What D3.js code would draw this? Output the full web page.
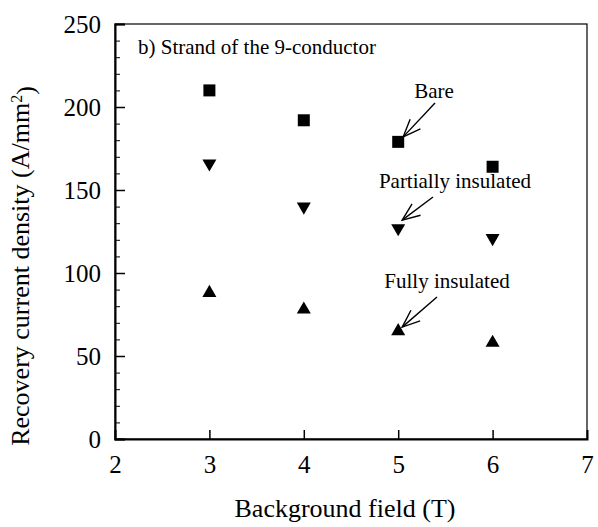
<!DOCTYPE html>
<html>
<head>
<meta charset="utf-8">
<script src="https://cdn.jsdelivr.net/npm/d3@7"></script>
<style>
  body { margin: 0; background: #fff; }
  svg { display: block; }
</style>
</head>
<body>
<div id="zone"></div>
<script>
(function() {
  "use strict";

  // données
  var fields = [3, 4, 5, 6];
  var bare = [210, 192, 179, 164];
  var partial = [166, 140, 127, 121];
  var fully = [88, 78, 65, 58];

  var xTicks = [2, 3, 4, 5, 6, 7];
  var yTicks = [0, 50, 100, 150, 200, 250];

  var police = "Liberation Serif";

  var width = 598, height = 527;
  var margin = {left: 115, top: 24, right: 11, bottom: 88};

  var svg = d3.select("#zone").append("svg")
    .attr("width", width)
    .attr("height", height)
    .attr("font-family", police);

  var x = d3.scaleLinear().domain([2, 7]).range([margin.left, width - margin.right]);
  var y = d3.scaleLinear().domain([0, 250]).range([height - margin.bottom, margin.top]);

  // cadre
  svg.append("rect")
    .attr("x", x(2)).attr("y", y(250))
    .attr("width", x(7) - x(2)).attr("height", y(0) - y(250))
    .attr("fill", "none").attr("stroke", "#000").attr("stroke-width", 1.2);

  // axe y : ticks vers l'intérieur
  var yAxis = svg.append("g")
    .attr("transform", "translate(" + x(2) + ",0)")
    .call(d3.axisLeft(y).tickValues(yTicks).tickFormat(d3.format("d")).tickSize(-10).tickPadding(14));
  yAxis.attr("font-family", police).attr("font-size", 25);
  yAxis.select(".domain").attr("stroke-width", 2);
  yAxis.selectAll(".tick line").attr("stroke-width", 1.5);
  yAxis.selectAll("text").attr("dy", "0.35em");

  // ticks mineurs y
  svg.append("g")
    .attr("transform", "translate(" + x(2) + ",0)")
    .call(d3.axisLeft(y).tickValues(d3.range(0, 251, 10).filter(function(d) { return d % 50 !== 0; }))
      .tickSize(-5).tickFormat(""))
    .select(".domain").remove();

  // axe x
  var xAxis = svg.append("g")
    .attr("transform", "translate(0," + y(0) + ")")
    .call(d3.axisBottom(x).tickValues(xTicks).tickFormat(d3.format("d")).tickSize(-9).tickPadding(16));
  xAxis.attr("font-family", police).attr("font-size", 25);
  xAxis.select(".domain").attr("stroke-width", 2);
  xAxis.selectAll(".tick line").attr("stroke-width", 1.5);
  xAxis.selectAll(".tick line").filter(function(d) { return d === 2 || d === 7; }).remove();

  // titres des axes
  svg.append("text")
    .attr("x", 345).attr("y", 517)
    .attr("text-anchor", "middle")
    .attr("font-size", 26)
    .text("Background field (T)");

  var yTitle = svg.append("text")
    .attr("transform", "translate(29,266) rotate(-90)")
    .attr("text-anchor", "middle")
    .attr("font-size", 26);
  yTitle.append("tspan").text("Recovery current density (A/mm");
  yTitle.append("tspan").attr("dy", "-0.45em").attr("font-size", 16).text("2");
  yTitle.append("tspan").attr("dy", "0.45em").text(")");

  svg.append("text")
    .attr("x", 138).attr("y", 54)
    .attr("font-size", 21)
    .text("b) Strand of the 9-conductor");

  // séries
  var sym = d3.symbol();
  function drawSeries(values, type, size, rot) {
    svg.append("g").selectAll("path")
      .data(values)
      .join("path")
      .attr("transform", function(d, i) {
        return "translate(" + x(fields[i]) + "," + y(d) + ") rotate(" + rot + ")";
      })
      .attr("d", sym.type(type).size(size)())
      .attr("fill", "#000");
  }
  drawSeries(bare, d3.symbolSquare, 144, 0);
  drawSeries(partial, d3.symbolTriangle, 85, 180);
  drawSeries(fully, d3.symbolTriangle, 85, 0);

  // annotations avec flèches (pointent vers le point à 5 T)
  var notes = [
    {label: "Bare", tx: 434, ty: 98, s: bare, sx: 1, sy: 5, dx: 5, dy: -5},
    {label: "Partially insulated", tx: 455, ty: 188, s: partial, sx: -22, sy: 9, dx: 4, dy: -8},
    {label: "Fully insulated", tx: 447, ty: 288, s: fully, sx: -10, sy: 9, dx: 4, dy: -4}
  ];
  notes.forEach(function(n) {
    svg.append("text")
      .attr("x", n.tx).attr("y", n.ty)
      .attr("text-anchor", "middle")
      .attr("font-size", 21)
      .text(n.label);
    var x1 = n.tx + n.sx, y1 = n.ty + n.sy;
    var x2 = x(5) + n.dx, y2 = y(n.s[2]) + n.dy;
    var a = Math.atan2(y1 - y2, x1 - x2);
    var len = 19, spread = 0.38;
    svg.append("line")
      .attr("x1", x1).attr("y1", y1).attr("x2", x2).attr("y2", y2)
      .attr("stroke", "#000").attr("stroke-width", 1.4);
    svg.append("path")
      .attr("d", "M" + (x2 + len * Math.cos(a + spread)) + "," + (y2 + len * Math.sin(a + spread)) +
        "L" + x2 + "," + y2 +
        "L" + (x2 + len * Math.cos(a - spread)) + "," + (y2 + len * Math.sin(a - spread)))
      .attr("fill", "none").attr("stroke", "#000").attr("stroke-width", 1.4);
  });

})();
</script>
</body>
</html>
